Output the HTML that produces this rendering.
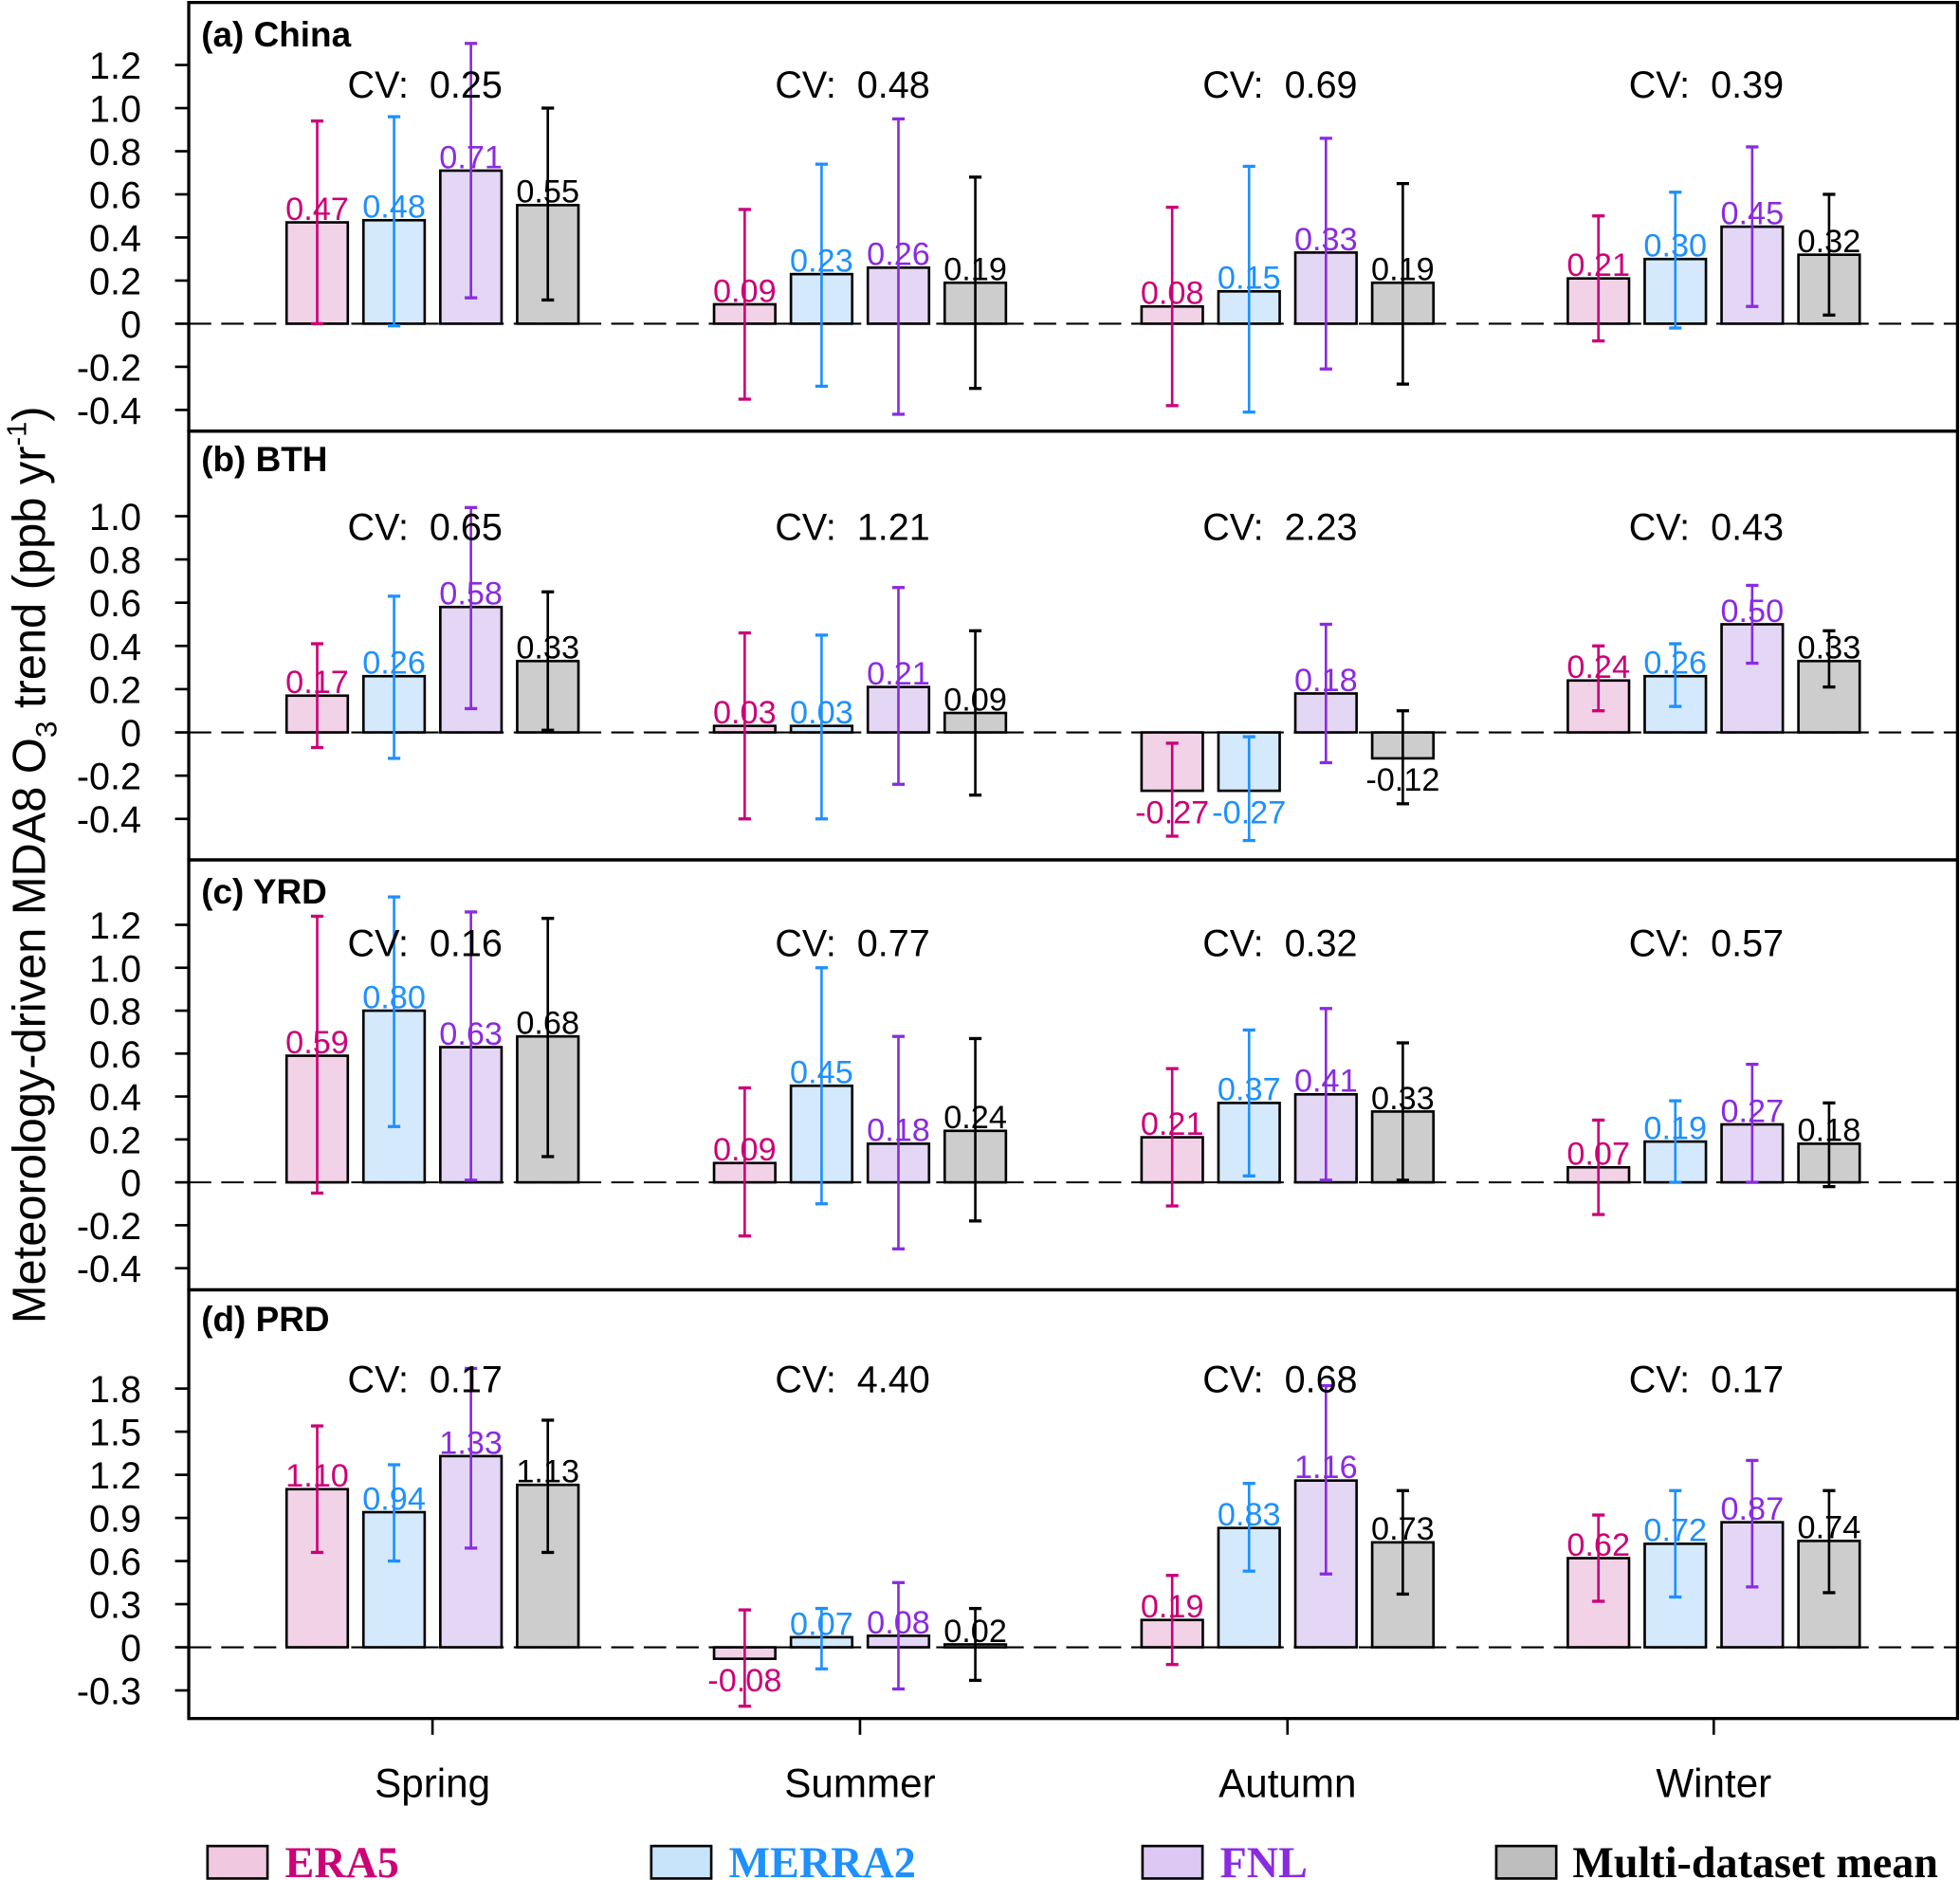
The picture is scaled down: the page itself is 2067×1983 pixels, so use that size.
<!DOCTYPE html>
<html><head><meta charset="utf-8"><style>
html,body{margin:0;padding:0;background:#fff;}
svg{display:block;}
text{font-family:"Liberation Sans",sans-serif;}
</style></head><body>
<svg id="chart" xmlns="http://www.w3.org/2000/svg" width="2067" height="1983" viewBox="0 0 1568 1504.2" preserveAspectRatio="none">
<rect x="0" y="0" width="1568" height="1505" fill="#fff"/>
<g id="plot"></g>
</svg>
<script>
const seasons = ["Spring","Summer","Autumn","Winter"];
const datasets = ["ERA5","MERRA2","FNL","Multi-dataset mean"];
const panelTitles = ["(a) China","(b) BTH","(c) YRD","(d) PRD"];
const valuesChina = [[0.47,0.48,0.71,0.55],[0.09,0.23,0.26,0.19],[0.08,0.15,0.33,0.19],[0.21,0.30,0.45,0.32]];
const lowChina = [[0.0,-0.01,0.12,0.11],[-0.35,-0.29,-0.42,-0.30],[-0.38,-0.41,-0.21,-0.28],[-0.08,-0.02,0.08,0.04]];
const highChina = [[0.94,0.96,1.30,1.00],[0.53,0.74,0.95,0.68],[0.54,0.73,0.86,0.65],[0.50,0.61,0.82,0.60]];
const valuesBTH = [[0.17,0.26,0.58,0.33],[0.03,0.03,0.21,0.09],[-0.27,-0.27,0.18,-0.12],[0.24,0.26,0.50,0.33]];
const lowBTH = [[-0.07,-0.12,0.11,0.01],[-0.40,-0.40,-0.24,-0.29],[-0.48,-0.50,-0.14,-0.33],[0.10,0.12,0.32,0.21]];
const highBTH = [[0.41,0.63,1.04,0.65],[0.46,0.45,0.67,0.47],[-0.05,-0.02,0.50,0.10],[0.40,0.41,0.68,0.47]];
const valuesYRD = [[0.59,0.80,0.63,0.68],[0.09,0.45,0.18,0.24],[0.21,0.37,0.41,0.33],[0.07,0.19,0.27,0.18]];
const lowYRD = [[-0.05,0.26,0.01,0.12],[-0.25,-0.10,-0.31,-0.18],[-0.11,0.03,0.01,0.01],[-0.15,0.00,0.00,-0.02]];
const highYRD = [[1.24,1.33,1.26,1.23],[0.44,1.00,0.68,0.67],[0.53,0.71,0.81,0.65],[0.29,0.38,0.55,0.37]];
const valuesPRD = [[1.10,0.94,1.33,1.13],[-0.08,0.07,0.08,0.02],[0.19,0.83,1.16,0.73],[0.62,0.72,0.87,0.74]];
const lowPRD = [[0.66,0.60,0.69,0.66],[-0.41,-0.15,-0.29,-0.23],[-0.12,0.53,0.51,0.37],[0.32,0.35,0.42,0.38]];
const highPRD = [[1.54,1.27,1.94,1.58],[0.26,0.27,0.45,0.27],[0.50,1.14,1.82,1.09],[0.92,1.09,1.30,1.09]];
const cvChina = ["0.25","0.48","0.69","0.39"];
const cvBTH = ["0.65","1.21","2.23","0.43"];
const cvYRD = ["0.16","0.77","0.32","0.57"];
const cvPRD = ["0.17","4.40","0.68","0.17"];
const ticksChina = [1.2,1.0,0.8,0.6,0.4,0.2,0,-0.2,-0.4];
const ticksBTH = [1.0,0.8,0.6,0.4,0.2,0,-0.2,-0.4];
const ticksYRD = [1.2,1.0,0.8,0.6,0.4,0.2,0,-0.2,-0.4];
const ticksPRD = [1.8,1.5,1.2,0.9,0.6,0.3,0,-0.3];
const tickLabelsChina = ["1.2","1.0","0.8","0.6","0.4","0.2","0","-0.2","-0.4"];
const tickLabelsBTH = ["1.0","0.8","0.6","0.4","0.2","0","-0.2","-0.4"];
const tickLabelsYRD = ["1.2","1.0","0.8","0.6","0.4","0.2","0","-0.2","-0.4"];
const tickLabelsPRD = ["1.8","1.5","1.2","0.9","0.6","0.3","0","-0.3"];

const NS="http://www.w3.org/2000/svg";
const root=document.getElementById('plot');
function el(tag,attrs,parent){const e=document.createElementNS(NS,tag);for(const k in attrs)e.setAttribute(k,attrs[k]);(parent||root).appendChild(e);return e;}
const strokeCols=["#CC0077","#1E90FF","#8A2BE2","#000000"];
const fillCols=["#F2D2E7","#D4E9FB","#E4D6F5","#CDCDCD"];
const L=151,R=1566;
const panels=[
 {top:2,bot:345,zero:259,ppu:172.5,v:valuesChina,lo:lowChina,hi:highChina,cv:cvChina,t:ticksChina,tl:tickLabelsChina,titleY:37,cvY:78},
 {top:345,bot:688,zero:586,ppu:173,v:valuesBTH,lo:lowBTH,hi:highBTH,cv:cvBTH,t:ticksBTH,tl:tickLabelsBTH,titleY:377,cvY:432},
 {top:688,bot:1032,zero:946,ppu:171.7,v:valuesYRD,lo:lowYRD,hi:highYRD,cv:cvYRD,t:ticksYRD,tl:tickLabelsYRD,titleY:723,cvY:765},
 {top:1032,bot:1375,zero:1318,ppu:115,v:valuesPRD,lo:lowPRD,hi:highPRD,cv:cvPRD,t:ticksPRD,tl:tickLabelsPRD,titleY:1065,cvY:1114}
];
const groupX=[346,688,1030,1371];
function xPos(s,d){return groupX[s]-92.25+d*61.5;}
const bw=49;
panels.forEach((p,pi)=>{
  const y=v=>p.zero-v*p.ppu;
  const g=el('g',{});
  
  
  p.t.forEach((tv,i)=>{
    const tk=el('line',{x1:140,x2:L,y1:y(tv),y2:y(tv),stroke:'#000','stroke-width':2},g);
    
    
    const tx=el('text',{x:113,y:y(tv)+11,'text-anchor':'end','font-size':30},g);
    
    
    tx.textContent=p.tl[i];
  });
  for(let s=0;s<4;s++){
    for(let d=0;d<4;d++){
      const v=p.v[s][d], cx=xPos(s,d);
      const y0=Math.min(y(v),y(0)), h=Math.abs(y(v)-y(0));
      const b=el('rect',{x:cx-bw/2,y:y0,width:bw,height:Math.max(h,1),fill:fillCols[d],stroke:'#000','stroke-width':2},g);
      
      
    }
  }
  const z=el('line',{x1:L,x2:R,y1:y(0),y2:y(0),stroke:'#000','stroke-width':1.6,'stroke-dasharray':'18 8'},g);
  
  
  for(let s=0;s<4;s++){
    for(let d=0;d<4;d++){
      const v=p.v[s][d], cx=xPos(s,d), c=strokeCols[d];
      const e1=el('line',{x1:cx,x2:cx,y1:y(p.lo[s][d]),y2:y(p.hi[s][d]),stroke:c,'stroke-width':2},g);
      
      
      [p.lo[s][d],p.hi[s][d]].forEach(ev=>{
        const cap=el('line',{x1:cx-5,x2:cx+5,y1:y(ev),y2:y(ev),stroke:c,'stroke-width':2.5},g);
        
        
      });
      const ly=v>=0? y(v)-2 : y(v)+26;
      const lt=el('text',{x:cx,y:ly,'text-anchor':'middle','font-size':26,fill:c},g);
      
      
      lt.textContent=v.toFixed(2);
    }
    const cvt=el('text',{x:groupX[s]-6,y:p.cvY,'text-anchor':'middle','font-size':30},g);
    
    
    cvt.textContent='CV:\u00a0 '+p.cv[s];
  }
  const tt=el('text',{x:161,y:p.titleY,'font-size':28,'font-weight':'bold'},g);
  
  
  tt.textContent=panelTitles[pi];
  const fr=el('rect',{x:L,y:p.top,width:R-L,height:p.bot-p.top,fill:'none',stroke:'#000','stroke-width':2.5},g);
  
  
});
seasons.forEach((s,i)=>{
  const tk=el('line',{x1:groupX[i],x2:groupX[i],y1:1375,y2:1388,stroke:'#000','stroke-width':2});
  
  
  const t=el('text',{x:groupX[i],y:1438,'text-anchor':'middle','font-size':32});
  
  
  t.textContent=s;
});
const yt=el('text',{x:0,y:0,'font-size':37,'text-anchor':'middle',transform:'translate(36,692) rotate(-90)'});


yt.innerHTML='Meteorology-driven MDA8 O<tspan font-size="24" dy="9">3</tspan><tspan dy="-9"> trend (ppb yr</tspan><tspan font-size="22" dy="-15">-1</tspan><tspan dy="15">)</tspan>';
const legX=[166,521,914,1197];
const legText=[228,583,976,1258];
const legFill=["#F0C8E0","#C8E4FA","#DCC8F3","#BEBEBE"];
datasets.forEach((d,i)=>{
  const r=el('rect',{x:legX[i],y:1477,width:48,height:26,fill:legFill[i],stroke:'#000','stroke-width':2});
  
  
  const t=el('text',{x:legText[i],y:1502,'font-size':35,'font-weight':'bold',fill:strokeCols[i],style:'font-family:"Liberation Serif",serif'});
  
  
  t.textContent=d;
});
</script>
</body></html>
